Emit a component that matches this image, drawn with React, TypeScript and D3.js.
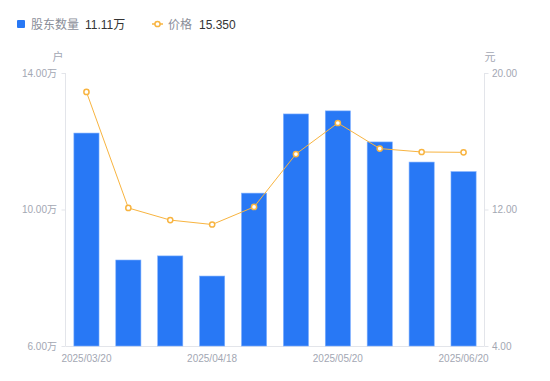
import React from "react";
import * as d3 from "d3";

const categories = ["2025/03/20","2025/03/31","2025/04/10","2025/04/18","2025/04/30","2025/05/09","2025/05/20","2025/05/30","2025/06/10","2025/06/20"];
const holders = [12.24, 8.52, 8.64, 8.05, 10.48, 12.80, 12.89, 11.98, 11.39, 11.11];
const prices = [18.89, 12.09, 11.38, 11.12, 12.15, 15.25, 17.07, 15.57, 15.37, 15.35];
const leftTicks = [6, 10, 14];
const rightTicks = [4, 12, 20];
const shownLabels = ["2025/03/20", "2025/04/18", "2025/05/20", "2025/06/20"];

const W = 550, H = 381;
const L = 65.5, R = 484.5, T = 73, B = 346;
const BLUE = "#2878f5";
const ORANGE = "#f8b440";
const GRAY = "#a3a7b3";
const FONT = "'Liberation Sans', 'Noto Sans CJK SC', sans-serif";

export default function App() {
  const band = d3.scaleBand<string>().domain(categories).range([L, R]);
  const yL = d3.scaleLinear().domain([6, 14]).range([B, T]);
  const yR = d3.scaleLinear().domain([4, 20]).range([B, T]);
  const cx = (c: string) => (band(c) as number) + band.bandwidth() / 2;
  const line = d3.line<number>().x((_, i) => cx(categories[i])).y((d) => yR(d));
  const bw = band.bandwidth() * 0.6;

  return (
    <svg width={W} height={H} style={{ position: "absolute", left: 0, top: 0, fontFamily: FONT }}>
      {/* legend */}
      <rect x={17} y={20} width={8} height={8} rx={1} fill={BLUE} />
      <text x={31} y={28.5} fontSize={12} fill="#8a8e99">股东数量</text>
      <text x={85} y={28.5} fontSize={12} fill="#333">11.11万</text>
      <line x1={152} x2={163} y1={24} y2={24} stroke={ORANGE} strokeWidth={1.5} />
      <circle cx={157.5} cy={24} r={2.6} fill="#fff" stroke={ORANGE} strokeWidth={1.5} />
      <text x={168} y={28.5} fontSize={12} fill="#8a8e99">价格</text>
      <text x={199} y={28.5} fontSize={12} fill="#333">15.350</text>

      {/* units */}
      <text x={58} y={61} fontSize={11} fill={GRAY} textAnchor="middle">户</text>
      <text x={490} y={61} fontSize={11} fill={GRAY} textAnchor="middle">元</text>

      {/* axes */}
      <line x1={L} x2={L} y1={T} y2={B} stroke="#e3e5ea" />
      <line x1={R} x2={R} y1={T} y2={B} stroke="#e3e5ea" />
      <line x1={L} x2={R} y1={B + 0.5} y2={B + 0.5} stroke="#e3e5ea" />
      {leftTicks.map((t) => (
        <g key={"l" + t}>
          <line x1={L - 4} x2={L} y1={yL(t) + 0.5} y2={yL(t) + 0.5} stroke="#e3e5ea" />
          <text x={57} y={yL(t) + 3.5} fontSize={10} fill={GRAY} textAnchor="end">{t.toFixed(2) + "万"}</text>
        </g>
      ))}
      {rightTicks.map((t) => (
        <g key={"r" + t}>
          <line x1={R} x2={R + 4} y1={yR(t) + 0.5} y2={yR(t) + 0.5} stroke="#e3e5ea" />
          <text x={492} y={yR(t) + 3.5} fontSize={10} fill={GRAY}>{t.toFixed(2)}</text>
        </g>
      ))}

      {/* bars */}
      {holders.map((v, i) => (
        <rect key={i} x={cx(categories[i]) - bw / 2} y={yL(v)} width={bw} height={B - yL(v)}
          fill={BLUE} stroke="#7fb0ff" strokeWidth={0.6} />
      ))}

      {/* x labels */}
      {shownLabels.map((c) => (
        <text key={c} x={cx(c)} y={362} fontSize={10} fill={GRAY} textAnchor="middle">{c}</text>
      ))}

      {/* price line */}
      <path d={line(prices) as string} fill="none" stroke={ORANGE} strokeWidth={1} />
      {prices.map((p, i) => (
        <circle key={i} cx={cx(categories[i])} cy={yR(p)} r={2.6} fill="#fff" stroke={ORANGE} strokeWidth={1.5} />
      ))}
    </svg>
  );
}
